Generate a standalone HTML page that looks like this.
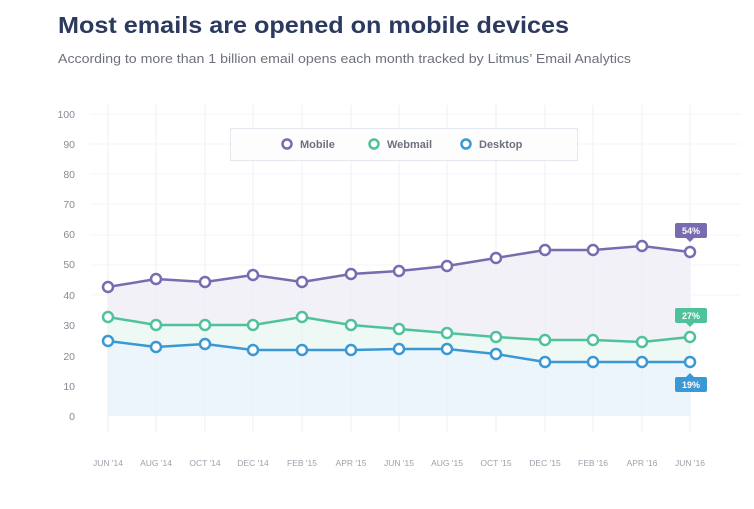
<!DOCTYPE html>
<html><head><meta charset="utf-8"><style>
html,body{margin:0;padding:0;background:#fff;}
svg{display:block;}
</style></head><body>
<svg width="754" height="509" viewBox="0 0 754 509" xmlns="http://www.w3.org/2000/svg" font-family="Liberation Sans, sans-serif">
<rect width="754" height="509" fill="#fff"/>
<text x="58" y="33" font-size="23" font-weight="bold" fill="#2c3a5f" textLength="511" lengthAdjust="spacingAndGlyphs">Most emails are opened on mobile devices</text>
<text x="58" y="63" font-size="13" fill="#6d717b" textLength="573" lengthAdjust="spacingAndGlyphs">According to more than 1 billion email opens each month tracked by Litmus’ Email Analytics</text>

<!-- horizontal grid -->
<g stroke="#f4f5f8" stroke-width="1">
<line x1="90" x2="740" y1="114" y2="114"/><line x1="90" x2="740" y1="144" y2="144"/><line x1="90" x2="740" y1="174" y2="174"/><line x1="90" x2="740" y1="204" y2="204"/><line x1="90" x2="740" y1="235" y2="235"/><line x1="90" x2="740" y1="265" y2="265"/><line x1="90" x2="740" y1="295" y2="295"/>
</g>
<!-- areas -->
<path d="M108,287 L156,279 L205,282 L253,275 L302,282 L351,274 L399,271 L447,266 L496,258 L545,250 L593,250 L642,246 L690,252 L690,416 L108,416 Z" fill="#f2f1f7"/>
<path d="M108,317 L156,325 L205,325 L253,325 L302,317 L351,325 L399,329 L447,333 L496,337 L545,340 L593,340 L642,342 L690,337 L690,416 L108,416 Z" fill="#eef8f5"/>
<path d="M108,341 L156,347 L205,344 L253,350 L302,350 L351,350 L399,349 L447,349 L496,354 L545,362 L593,362 L642,362 L690,362 L690,416 L108,416 Z" fill="#ecf5fb"/>
<!-- vertical grid -->
<g stroke="#eceff4" stroke-width="1">
<line x1="108" x2="108" y1="105" y2="432"/><line x1="156" x2="156" y1="105" y2="432"/><line x1="205" x2="205" y1="105" y2="432"/><line x1="253" x2="253" y1="105" y2="432"/><line x1="302" x2="302" y1="105" y2="432"/><line x1="351" x2="351" y1="105" y2="432"/><line x1="399" x2="399" y1="105" y2="432"/><line x1="447" x2="447" y1="105" y2="432"/><line x1="496" x2="496" y1="105" y2="432"/><line x1="545" x2="545" y1="105" y2="432"/><line x1="593" x2="593" y1="105" y2="432"/><line x1="642" x2="642" y1="105" y2="432"/><line x1="690" x2="690" y1="105" y2="432"/>
</g>
<!-- y labels -->
<g font-size="10.5" fill="#868b95" text-anchor="end">
<text x="75" y="118">100</text><text x="75" y="148">90</text><text x="75" y="178">80</text><text x="75" y="208">70</text><text x="75" y="238">60</text><text x="75" y="268">50</text><text x="75" y="299">40</text><text x="75" y="329">30</text><text x="75" y="360">20</text><text x="75" y="390">10</text><text x="75" y="420">0</text>
</g>
<!-- x labels -->
<g font-size="8.5" fill="#9ca1aa" text-anchor="middle">
<text x="108" y="466">JUN '14</text><text x="156" y="466">AUG '14</text><text x="205" y="466">OCT '14</text><text x="253" y="466">DEC '14</text><text x="302" y="466">FEB '15</text><text x="351" y="466">APR '15</text><text x="399" y="466">JUN '15</text><text x="447" y="466">AUG '15</text><text x="496" y="466">OCT '15</text><text x="545" y="466">DEC '15</text><text x="593" y="466">FEB '16</text><text x="642" y="466">APR '16</text><text x="690" y="466">JUN '16</text>
</g>
<!-- legend -->
<rect x="230.5" y="128.5" width="347" height="32" fill="#fdfdfe" stroke="#e3e7ee"/>
<g stroke-width="2.5" fill="#fff">
<circle cx="287" cy="144" r="4.5" stroke="#7a6bb0"/>
<circle cx="374" cy="144" r="4.5" stroke="#4fc29c"/>
<circle cx="466" cy="144" r="4.5" stroke="#3a98d4"/>
</g>
<g font-size="11" font-weight="bold" fill="#6d717b">
<text x="300" y="148">Mobile</text><text x="387" y="148">Webmail</text><text x="479" y="148">Desktop</text>
</g>
<!-- lines -->
<g fill="none" stroke-width="2.5" stroke-linejoin="round">
<polyline stroke="#7a6bb0" points="108,287 156,279 205,282 253,275 302,282 351,274 399,271 447,266 496,258 545,250 593,250 642,246 690,252"/>
<polyline stroke="#4fc29c" points="108,317 156,325 205,325 253,325 302,317 351,325 399,329 447,333 496,337 545,340 593,340 642,342 690,337"/>
<polyline stroke="#3a98d4" points="108,341 156,347 205,344 253,350 302,350 351,350 399,349 447,349 496,354 545,362 593,362 642,362 690,362"/>
</g>
<g fill="#fff" stroke-width="2.5">
<g stroke="#7a6bb0">
<circle cx="108" cy="287" r="5"/><circle cx="156" cy="279" r="5"/><circle cx="205" cy="282" r="5"/><circle cx="253" cy="275" r="5"/><circle cx="302" cy="282" r="5"/><circle cx="351" cy="274" r="5"/><circle cx="399" cy="271" r="5"/><circle cx="447" cy="266" r="5"/><circle cx="496" cy="258" r="5"/><circle cx="545" cy="250" r="5"/><circle cx="593" cy="250" r="5"/><circle cx="642" cy="246" r="5"/><circle cx="690" cy="252" r="5"/>
</g>
<g stroke="#4fc29c">
<circle cx="108" cy="317" r="5"/><circle cx="156" cy="325" r="5"/><circle cx="205" cy="325" r="5"/><circle cx="253" cy="325" r="5"/><circle cx="302" cy="317" r="5"/><circle cx="351" cy="325" r="5"/><circle cx="399" cy="329" r="5"/><circle cx="447" cy="333" r="5"/><circle cx="496" cy="337" r="5"/><circle cx="545" cy="340" r="5"/><circle cx="593" cy="340" r="5"/><circle cx="642" cy="342" r="5"/><circle cx="690" cy="337" r="5"/>
</g>
<g stroke="#3a98d4">
<circle cx="108" cy="341" r="5"/><circle cx="156" cy="347" r="5"/><circle cx="205" cy="344" r="5"/><circle cx="253" cy="350" r="5"/><circle cx="302" cy="350" r="5"/><circle cx="351" cy="350" r="5"/><circle cx="399" cy="349" r="5"/><circle cx="447" cy="349" r="5"/><circle cx="496" cy="354" r="5"/><circle cx="545" cy="362" r="5"/><circle cx="593" cy="362" r="5"/><circle cx="642" cy="362" r="5"/><circle cx="690" cy="362" r="5"/>
</g>
</g>
<!-- value tags -->
<rect x="675" y="223" width="32" height="15" rx="2" fill="#7a6bb0"/>
<path d="M686,238 L690,242 L694,238 Z" fill="#7a6bb0"/>
<text x="691" y="234" font-size="9" font-weight="bold" fill="#fff" text-anchor="middle">54%</text>
<rect x="675" y="308" width="32" height="15" rx="2" fill="#4fc29c"/>
<path d="M686,323 L690,327 L694,323 Z" fill="#4fc29c"/>
<text x="691" y="319" font-size="9" font-weight="bold" fill="#fff" text-anchor="middle">27%</text>
<rect x="675" y="377" width="32" height="15" rx="2" fill="#3a98d4"/>
<path d="M686,377 L690,373 L694,377 Z" fill="#3a98d4"/>
<text x="691" y="388" font-size="9" font-weight="bold" fill="#fff" text-anchor="middle">19%</text>
</svg>
</body></html>
